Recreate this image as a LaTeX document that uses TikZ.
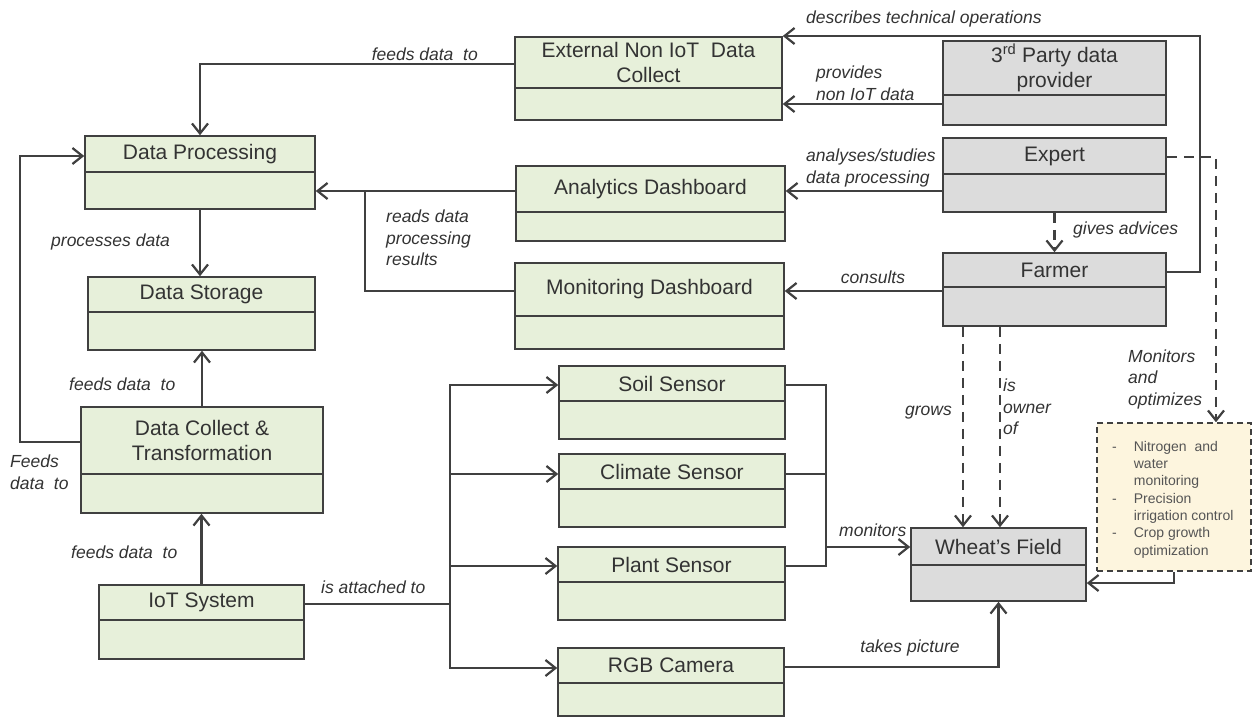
\documentclass[tikz,border=0pt]{standalone}
\usepackage{fontspec}
\setmainfont{Liberation Sans}
\usetikzlibrary{arrows.meta,fit,calc}
\definecolor{ink}{RGB}{64,64,64}
\definecolor{txt}{RGB}{51,51,51}
\definecolor{listtxt}{RGB}{85,85,85}
\definecolor{leaf}{RGB}{231,240,218}
\definecolor{stone}{RGB}{220,220,220}
\definecolor{cream}{RGB}{253,245,222}
\tikzset{
  boxshape/.style={draw=ink, line width=1.6pt, inner sep=0pt},
  boxline/.style={draw=ink, line width=1.6pt},
  title/.style={text=txt, font=\fontsize{21}{25.5}\selectfont, align=center, inner sep=0pt},
  lbl/.style={text=txt, font=\fontsize{17.5}{21.5}\selectfont\itshape, align=left, inner sep=0pt},
  conn/.style={draw=ink, line width=2.4pt},
  arr/.style={conn, -{Straight Barb[length=10pt,width=16pt,line width=2.2pt]}},
  darr/.style={arr, dash pattern=on 10pt off 7pt},
  notebox/.style={draw=ink, fill=cream, line width=1.6pt, dash pattern=on 6pt off 4pt, inner sep=0pt},
}
% class box: name, x1, y1, x2, y of divider, y2, fill, title
\newcommand\classbox[8]{%
  \node[boxshape, fill=#7, fit={(#2,#3) (#4,#6)}] (#1) {};
  \draw[boxline] (#2,#5) -- (#4,#5);
  \node[title] (#1-t) at ($(#2,#3)!.5!(#4,#5)$) {#8};
}
\begin{document}
\begin{tikzpicture}[x=1pt,y=-1pt]
\useasboundingbox (0,0) rectangle (1254,717);
\fill[white] (0,0) rectangle (1254,717);

% green system components
\classbox{ext}{515}{37}{782}{88}{120}{leaf}{External Non IoT\ \ Data\\Collect}
\classbox{dp}{85}{136}{315}{172}{209}{leaf}{Data Processing}
\classbox{ana}{516}{166}{785}{212}{241}{leaf}{Analytics Dashboard}
\classbox{mon}{515}{263}{784}{316}{349}{leaf}{Monitoring Dashboard}
\classbox{ds}{88}{277}{315}{312}{350}{leaf}{Data Storage}
\classbox{dc}{81}{407}{323}{474}{513}{leaf}{Data Collect \&\\Transformation}
\classbox{iot}{99}{585}{304}{620}{659}{leaf}{IoT System}
\classbox{soil}{559}{366}{785}{401}{439}{leaf}{Soil Sensor}
\classbox{clim}{559}{454}{785}{489}{527}{leaf}{Climate Sensor}
\classbox{plant}{558}{547}{785}{582}{620}{leaf}{Plant Sensor}
\classbox{rgb}{558}{648}{784}{683}{716}{leaf}{RGB Camera}

% grey actors
\classbox{third}{943}{41}{1166}{95}{125}{stone}{3\textsuperscript{rd} Party data\\provider}
\classbox{expert}{943}{138}{1166}{174}{212}{stone}{Expert}
\classbox{farmer}{943}{253}{1166}{287}{326}{stone}{Farmer}
\classbox{wheat}{911}{528}{1086}{565}{601}{stone}{Wheat’s Field}

% objectives note
\node[notebox, fit={(1097,423) (1251,571)}] (note) {};
\node[anchor=north west, inner sep=0pt, text=listtxt, font=\fontsize{14}{17.3}\selectfont] (notelist) at (1112,439) {%
  \begin{tabular}{@{}l@{\hspace{17pt}}l@{}}
  - & Nitrogen\ \ and\\
    & water\\
    & monitoring\\
  - & Precision\\
    & irrigation control\\
  - & Crop growth\\
    & optimization
  \end{tabular}};

% bend points
\coordinate (cDesc) at (1200,36);
\coordinate (cRead) at (365,191);
\coordinate (cFeed) at (20,156);
\coordinate (cIoT) at (450,604);
\coordinate (cMon) at (826,547);
\coordinate (cAdv) at (1216,157);

% connectors
\draw[arr] (ext.west|-0,64) -| (dp.north);
\draw[arr] (farmer.east|-0,272) -| (cDesc) -- (ext.east|-cDesc);
\draw[arr] (third.west|-0,104) -- (ext.east|-0,104);
\draw[arr] (expert.west|-0,191) -- (ana.east|-0,191);
\draw[arr] (ana.west|-cRead) -- (dp.east|-cRead);
\draw[conn] (mon.west|-0,291) -| (cRead);
\draw[arr] (farmer.west|-0,291) -- (mon.east|-0,291);
\draw[darr] (expert.south) -- (farmer.north);
\draw[darr] (expert.east|-cAdv) -| (note.north -| cAdv);
\draw[darr] (farmer.south -| 963,0) -- (wheat.north -| 963,0);
\draw[darr] (farmer.south -| 1000,0) -- (wheat.north -| 1000,0);
\draw[arr] (dp.south) -- (ds.north -| dp.south);
\draw[arr] (dc.north) -- (ds.south -| dc.north);
\draw[arr] (iot.north) -- (dc.south -| iot.north);
\draw[arr] (dc.west|-0,442) -| (cFeed) -- (dp.west|-cFeed);
\draw[conn] (iot.east|-cIoT) -- (cIoT);
\draw[arr] (cIoT) |- (soil.west|-0,385);
\draw[arr] (cIoT) |- (clim.west|-0,474);
\draw[arr] (cIoT) |- (plant.west|-0,566);
\draw[arr] (cIoT) |- (rgb.west|-0,668);
\draw[conn] (soil.east|-0,385) -| (cMon);
\draw[conn] (clim.east|-0,474) -| (cMon);
\draw[conn] (plant.east|-0,566) -| (cMon);
\draw[arr] (cMon) -- (wheat.west|-cMon);
\draw[arr] (rgb.east|-0,667) -| (wheat.south);
\draw[arr] (note.south) |- (wheat.east|-0,583);

% connector labels
\node[lbl, anchor=east] (l1) at (478,54) {feeds data\ \ to};
\node[lbl, anchor=west] (l2) at (806,19) {describes technical operations};
\node[lbl, anchor=west] (l3) at (816,83) {provides\\non IoT data};
\node[lbl, anchor=west] (l4) at (806,168) {analyses/studies\\data processing};
\node[lbl, anchor=west] (l5) at (386,238) {reads data\\processing\\results};
\node[lbl] (l6) at (873,277) {consults};
\node[lbl, anchor=west] (l7) at (1073,230) {gives advices};
\node[lbl, anchor=west] (l8) at (1128,379) {Monitors\\and\\optimizes};
\node[lbl, anchor=east] (l9) at (952,413) {grows};
\node[lbl, anchor=west] (l10) at (1003,407) {is\\owner\\of};
\node[lbl, anchor=west] (l11) at (839,530) {monitors};
\node[lbl] (l12) at (910,648) {takes picture};
\node[lbl, anchor=west] (l13) at (321,587) {is attached to};
\node[lbl, anchor=west] (l14) at (51,242) {processes data};
\node[lbl, anchor=west] (l15) at (69,384) {feeds data\ \ to};
\node[lbl, anchor=west] (l16) at (71,552) {feeds data\ \ to};
\node[lbl, anchor=west] (l17) at (10,472) {Feeds\\data\ \ to};
\end{tikzpicture}
\end{document}
